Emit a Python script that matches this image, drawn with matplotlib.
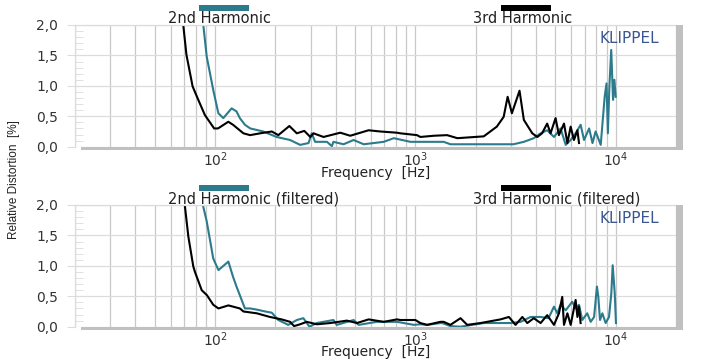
import numpy as np
import matplotlib
matplotlib.use("Agg")
import matplotlib.pyplot as plt
from matplotlib.patches import Rectangle
from matplotlib.ticker import FixedLocator, FuncFormatter, LogLocator, NullFormatter

# ---------------- data ----------------
h3_top_freq = [60, 66, 69.4, 72, 77.3, 82.5, 89, 99, 103.5, 116.5, 123, 138.6, 149.6, 168, 192, 207, 235,
               256, 279, 299, 310, 348, 422, 473, 584, 668, 809, 842, 1019, 1059, 1237, 1440, 1621,
               2195, 2551, 2759, 2888, 3033, 3311, 3480, 3834, 4063, 4290, 4549, 4730, 5011, 5208,
               5520, 5740, 5960, 6190, 6440, 6560]
h3_top_val = [3.2, 2.4, 2.0, 1.51, 0.99, 0.77, 0.52, 0.30, 0.30, 0.41, 0.36, 0.22, 0.19, 0.22, 0.25, 0.19, 0.34,
              0.22, 0.26, 0.16, 0.22, 0.16, 0.23, 0.18, 0.27, 0.25, 0.23, 0.22, 0.19, 0.16, 0.18, 0.19, 0.14,
              0.17, 0.33, 0.49, 0.82, 0.55, 0.92, 0.44, 0.22, 0.16, 0.22, 0.38, 0.22, 0.47, 0.19,
              0.38, 0.06, 0.33, 0.11, 0.27, 0.06]

h2_top_freq = [75, 82, 87.4, 90.9, 98, 103.9, 110, 121, 128, 133, 141, 150, 174, 203, 237, 266, 293, 304,
               316, 362, 383, 390, 438, 492, 552, 695, 780, 946, 1385, 1496, 2195, 3087, 3480, 3902,
               4217, 4549, 4920, 5308, 5630, 5960, 6310, 6683, 6950, 7370, 7660, 7940, 8420, 8580,
               8810, 9000, 9140, 9300, 9500, 9700, 9850, 10000]
h2_top_val = [3.5, 2.5, 2.0, 1.48, 0.93, 0.55, 0.47, 0.63, 0.58, 0.47, 0.36, 0.30, 0.25, 0.16, 0.11, 0.03, 0.06, 0.22,
              0.08, 0.08, 0.01, 0.08, 0.04, 0.11, 0.04, 0.08, 0.14, 0.08, 0.08, 0.04, 0.04, 0.04, 0.08, 0.14,
              0.22, 0.27, 0.16, 0.30, 0.03, 0.11, 0.22, 0.36, 0.11, 0.30, 0.06, 0.25, 0.03, 0.36,
              0.82, 1.04, 0.22, 0.99, 1.59, 0.77, 1.10, 0.82]

h3_bot_freq = [60, 66, 70.8, 73.6, 77.9, 79.4, 85.8, 91, 98, 104, 116.6, 133, 138.6, 161.7, 188, 215, 237,
               248, 266, 287, 322, 376, 455, 511, 584, 695, 809, 842, 1000, 1059, 1145, 1334, 1385,
               1496, 1680, 1815, 2113, 2661, 2930, 3162, 3420, 3620, 3900, 4220, 4550, 4920, 5210,
               5410, 5520, 5740, 5960, 6310, 6440, 6560, 6680]
h3_bot_val = [3.3, 2.5, 1.97, 1.48, 0.99, 0.90, 0.60, 0.52, 0.36, 0.30, 0.35, 0.30, 0.25, 0.22, 0.16, 0.12, 0.08,
              0.01, 0.04, 0.08, 0.04, 0.06, 0.10, 0.06, 0.12, 0.08, 0.12, 0.11, 0.11, 0.06, 0.03, 0.08, 0.08,
              0.03, 0.14, 0.03, 0.06, 0.12, 0.16, 0.03, 0.16, 0.06, 0.14, 0.06, 0.19, 0.03, 0.22,
              0.49, 0.03, 0.22, 0.03, 0.44, 0.16, 0.33, 0.06]

h2_bot_freq = [75, 82, 87.4, 90.9, 98, 104, 116.6, 123, 128, 141, 150, 162, 178, 192, 207, 232, 256, 276,
               296, 322, 390, 405, 492, 521, 642, 809, 983, 1059, 1145, 1334, 1361, 1496, 1680, 2195,
               2661, 2985, 3350, 3760, 4220, 4620, 4920, 5110, 5310, 5630, 6070, 6310, 6560, 6810,
               7210, 7500, 7800, 8060, 8190, 8350, 8580, 8910, 9260, 9510, 9660, 9890, 10030]
h2_bot_val = [3.5, 2.5, 1.97, 1.73, 1.12, 0.93, 1.07, 0.82, 0.66, 0.30, 0.30, 0.28, 0.25, 0.23, 0.11, 0.03, 0.11, 0.14,
              0.0, 0.06, 0.11, 0.03, 0.11, 0.03, 0.08, 0.08, 0.03, 0.04, 0.03, 0.06, 0.06, 0.01, 0.0, 0.06,
              0.06, 0.06, 0.08, 0.16, 0.16, 0.14, 0.33, 0.22, 0.36, 0.27, 0.41, 0.30, 0.36, 0.11,
              0.22, 0.08, 0.16, 0.66, 0.49, 0.11, 0.22, 0.06, 0.16, 0.55, 1.01, 0.55, 0.06]

y_ticks = [0.0, 0.5, 1.0, 1.5, 2.0]
x_ticks = [1e2, 1e3, 1e4]
headers_top = ["2nd Harmonic", "3rd Harmonic"]
headers_bot = ["2nd Harmonic (filtered)", "3rd Harmonic (filtered)"]

TEAL = "#2b7b8c"
BLACK = "#000000"
W, H = 710, 360

plt.rcParams['font.family'] = ['DejaVu Sans']

fig = plt.figure(figsize=(7.1, 3.6), dpi=100)
fig.patch.set_facecolor("white")


def px(x, y):
    return x / W, 1 - y / H


axes_px = [(75, 25, 676, 146.7), (75, 205, 676, 326.7)]
axs = []
for (x0, y0, x1, y1) in axes_px:
    ax = fig.add_axes([x0 / W, 1 - y1 / H, (x1 - x0) / W, (y1 - y0) / H])
    axs.append(ax)


def style(ax):
    ax.set_xscale("log")
    ax.set_xlim(20, 20000)
    ax.set_ylim(0, 2.0)
    ax.xaxis.set_major_locator(FixedLocator(x_ticks))
    ax.xaxis.set_minor_locator(LogLocator(base=10, subs=np.arange(2, 10)))
    ax.xaxis.set_minor_formatter(NullFormatter())
    ax.yaxis.set_major_locator(FixedLocator(y_ticks))
    ax.yaxis.set_minor_locator(FixedLocator(np.arange(0.1, 2.0, 0.1)))
    ax.yaxis.set_major_formatter(FuncFormatter(lambda v, p: f"{v:.1f}".replace(".", ",")))
    ax.grid(True, which="major", axis="y", color="#dcdcdc", lw=0.9)
    ax.grid(True, which="both", axis="x", color="#c8c8c8", lw=0.9)
    ax.tick_params(axis="x", which="both", length=0, pad=3, labelsize=10, labelcolor="#333333")
    ax.tick_params(axis="y", which="major", length=6, direction="out", color="#dcdcdc",
                   labelsize=10, labelcolor="#333333", pad=6)
    ax.tick_params(axis="y", which="minor", length=6, direction="in", color="#dcdcdc")
    for s in ["left", "top"]:
        ax.spines[s].set_color("#dcdcdc")
        ax.spines[s].set_linewidth(0.9)
    for s in ["right", "bottom"]:
        ax.spines[s].set_visible(False)
    ax.set_axisbelow(True)
    ax.text(0.923, 0.885, "KLIPPEL", transform=ax.transAxes, ha="center", va="center",
            fontsize=11, color="#3a5690")


for ax in axs:
    style(ax)

axs[0].plot(h2_top_freq, h2_top_val, color=TEAL, lw=1.5, clip_on=True)
axs[0].plot(h3_top_freq, h3_top_val, color=BLACK, lw=1.5, clip_on=True)
axs[1].plot(h2_bot_freq, h2_bot_val, color=TEAL, lw=1.5, clip_on=True)
axs[1].plot(h3_bot_freq, h3_bot_val, color=BLACK, lw=1.5, clip_on=True)

# x-axis labels placed explicitly (tight space at figure bottom)
for base in (177, 356):
    lx, ly = px(375.5, base)
    fig.text(lx, ly, "Frequency  [Hz]", ha="center", va="baseline", fontsize=10, color="#222222")

# shadow bars
for (x0, y0, x1, y1) in axes_px:
    bx, by = px(81, y1 + 3.5)
    fig.patches.append(Rectangle((bx, by), (683 - 81) / W, 3.5 / H, transform=fig.transFigure,
                                 facecolor="#c0c0c0", edgecolor="none"))
    rx, ry = px(676, y1 + 3.5)
    fig.patches.append(Rectangle((rx, ry), 7 / W, (y1 + 3.5 - y0) / H, transform=fig.transFigure,
                                 facecolor="#c0c0c0", edgecolor="none"))

# headers with colour bars
for off, labels in [(0, headers_top), (180, headers_bot)]:
    for (bar_x0, text_x, color), label in zip([(199, 168, TEAL), (501, 473, BLACK)], labels):
        bx, by = px(bar_x0, off + 11)
        fig.patches.append(Rectangle((bx, by), 50 / W, 6 / H, transform=fig.transFigure,
                                     facecolor=color, edgecolor="none"))
        tx, ty = px(text_x, off + 18.5)
        fig.text(tx, ty, label, ha="left", va="center", fontsize=10.5, color="#222222")

fig.text(14 / W, 0.5, "Relative Distortion  [%]", rotation=90, ha="center", va="center",
         fontsize=8.5, color="#222222", family=["Liberation Sans Narrow", "Liberation Sans"])

fig.savefig("out.png", dpi=100)
